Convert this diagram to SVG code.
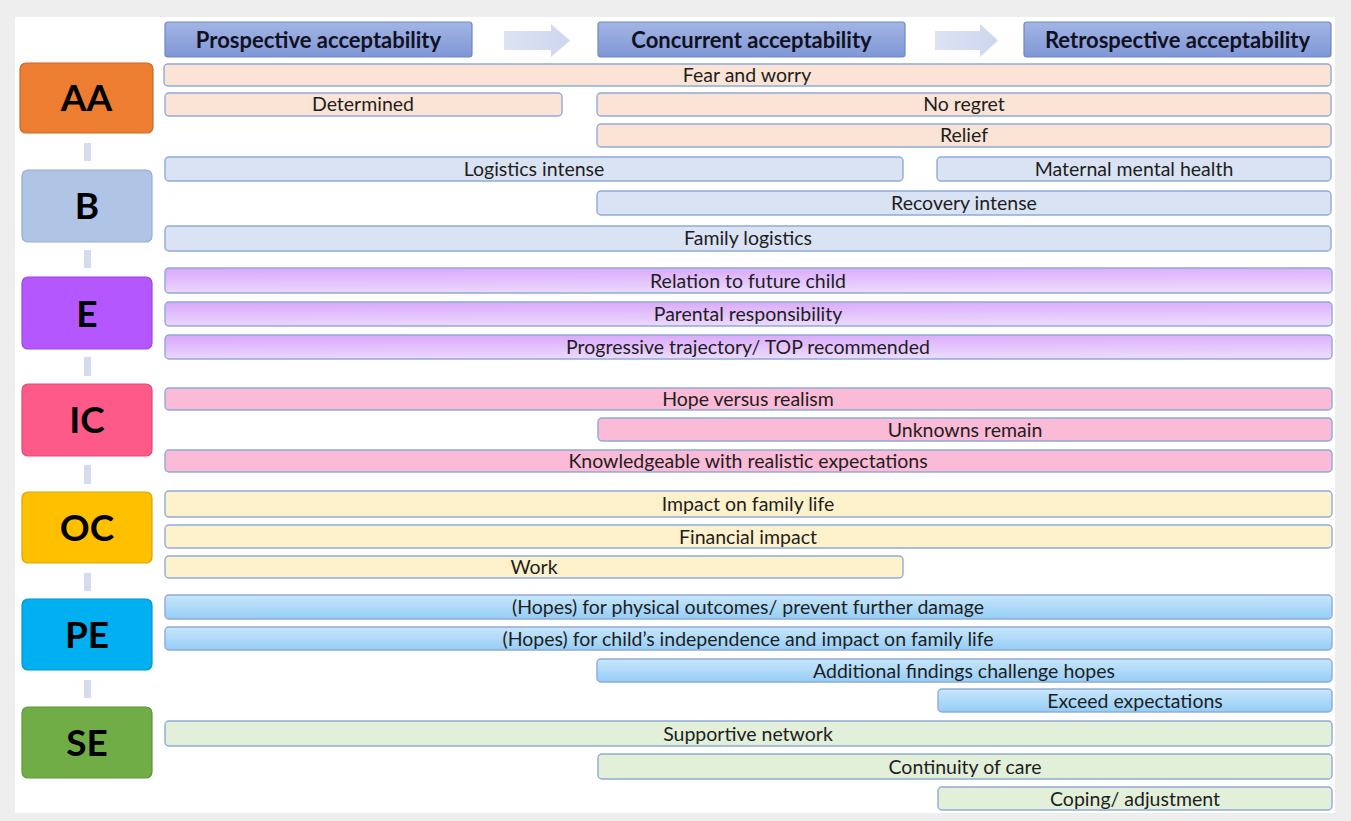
<svg xmlns="http://www.w3.org/2000/svg" width="1351" height="821" viewBox="0 0 1351 821">
<defs>
<linearGradient id="gHead" x1="0" y1="0" x2="0" y2="1"><stop offset="0" stop-color="#a3b5e4"/><stop offset="1" stop-color="#7f97d6"/></linearGradient>
<linearGradient id="gArrow" x1="0" y1="0" x2="1" y2="0"><stop offset="0" stop-color="#dde3f3"/><stop offset="1" stop-color="#cdd6ef"/></linearGradient>
<linearGradient id="gE" x1="0" y1="0" x2="0.2" y2="1"><stop offset="0" stop-color="#d9a6fb"/><stop offset="1" stop-color="#ecd8fd"/></linearGradient>
<linearGradient id="gPE" x1="0" y1="0" x2="0" y2="1"><stop offset="0" stop-color="#c8e7fc"/><stop offset="1" stop-color="#95cdf5"/></linearGradient>
<style>
.bar{stroke:#8faad9;stroke-width:1.4}
.aa{fill:#fbe4d5}.b{fill:#dae3f3}.e{fill:url(#gE)}.ic{fill:#fbbad5}.oc{fill:#fef2cc}.pe{fill:url(#gPE)}.se{fill:#e2efd9}
.t{font-family:Lato,"Open Sans","Liberation Sans",sans-serif;font-size:19.5px;fill:#1e1e1e;text-anchor:middle}
.h{font-family:Lato,"Open Sans","Liberation Sans",sans-serif;font-size:22px;font-weight:bold;fill:#111122;text-anchor:middle}
.n{font-family:Lato,"Open Sans","Liberation Sans",sans-serif;font-size:37px;font-weight:bold;fill:#000;text-anchor:middle}
.hd{fill:url(#gHead);stroke:#6f87c6;stroke-width:1.2}
.conn{stroke:#d4dbee;stroke-width:7}
</style>
</defs>
<rect x="0" y="0" width="1351" height="821" fill="#eeeeee"/>
<rect x="15" y="17" width="1320" height="796" fill="#ffffff"/>

<g id="headers">
<g id="h-prospective"><rect class="hd" x="165" y="22" width="307" height="35" rx="3"/><text class="h" x="318.5" y="47.5">Prospective acceptability</text></g>
<g id="h-concurrent"><rect class="hd" x="598" y="22" width="307" height="35" rx="3"/><text class="h" x="751.5" y="47.5">Concurrent acceptability</text></g>
<g id="h-retrospective"><rect class="hd" x="1024" y="22" width="307" height="35" rx="3"/><text class="h" x="1177.5" y="47.5">Retrospective acceptability</text></g>
<path d="M504,31 H551 V24 L570,40.5 L551,57 V50 H504 Z" fill="url(#gArrow)"/>
<path d="M935,31 H980 V24 L998,40.5 L980,57 V50 H935 Z" fill="url(#gArrow)"/>
</g>

<g id="connectors">
<line class="conn" x1="87.5" y1="143" x2="87.5" y2="161"/>
<line class="conn" x1="87.5" y1="250" x2="87.5" y2="268"/>
<line class="conn" x1="87.5" y1="357" x2="87.5" y2="376"/>
<line class="conn" x1="87.5" y1="465" x2="87.5" y2="484"/>
<line class="conn" x1="87.5" y1="573" x2="87.5" y2="591"/>
<line class="conn" x1="87.5" y1="680" x2="87.5" y2="698"/>
</g>

<g id="node-AA"><rect x="20" y="63" width="133" height="70" rx="6" fill="#ed7d31" stroke="#c9692a" stroke-width="1.2"/><text class="n" x="86.5" y="111">AA</text></g>
<g id="node-B"><rect x="22" y="170" width="130" height="72" rx="6" fill="#b0c4e5" stroke="#97abd0" stroke-width="1.2"/><text class="n" x="87" y="219">B</text></g>
<g id="node-E"><rect x="22" y="277" width="130" height="72" rx="6" fill="#b557ff" stroke="#9a47dc" stroke-width="1.2"/><text class="n" x="87" y="327">E</text></g>
<g id="node-IC"><rect x="22" y="384" width="130" height="72" rx="6" fill="#fd5a8a" stroke="#dd4a77" stroke-width="1.2"/><text class="n" x="87" y="433">IC</text></g>
<g id="node-OC"><rect x="22" y="492" width="130" height="71" rx="6" fill="#ffc000" stroke="#dba500" stroke-width="1.2"/><text class="n" x="87" y="541">OC</text></g>
<g id="node-PE"><rect x="22" y="599" width="130" height="71" rx="6" fill="#00b0f0" stroke="#0097cf" stroke-width="1.2"/><text class="n" x="87" y="648">PE</text></g>
<g id="node-SE"><rect x="22" y="707" width="130" height="71" rx="6" fill="#70ad47" stroke="#5f953c" stroke-width="1.2"/><text class="n" x="87" y="756">SE</text></g>

<g id="bars-AA">
<g id="bar-fear"><rect class="bar aa" x="164" y="64" width="1167" height="22" rx="4"/><text class="t" x="747" y="82">Fear and worry</text></g>
<g id="bar-determined"><rect class="bar aa" x="165" y="93" width="397" height="23" rx="4"/><text class="t" x="363" y="111">Determined</text></g>
<g id="bar-noregret"><rect class="bar aa" x="597" y="93" width="734" height="23" rx="4"/><text class="t" x="964" y="111">No regret</text></g>
<g id="bar-relief"><rect class="bar aa" x="597" y="124" width="734" height="23" rx="4"/><text class="t" x="964" y="142">Relief</text></g>
</g>
<g id="bars-B">
<g id="bar-logistics"><rect class="bar b" x="165" y="157" width="738" height="24" rx="4"/><text class="t" x="534" y="176">Logistics intense</text></g>
<g id="bar-maternal"><rect class="bar b" x="937" y="157" width="394" height="24" rx="4"/><text class="t" x="1134" y="176">Maternal mental health</text></g>
<g id="bar-recovery"><rect class="bar b" x="597" y="191" width="734" height="24" rx="4"/><text class="t" x="964" y="210">Recovery intense</text></g>
<g id="bar-family"><rect class="bar b" x="165" y="226" width="1166" height="25" rx="4"/><text class="t" x="748" y="245">Family logistics</text></g>
</g>
<g id="bars-E">
<g id="bar-relation"><rect class="bar e" x="165" y="268" width="1167" height="25" rx="4"/><text class="t" x="748" y="287.5">Relation to future child</text></g>
<g id="bar-parental"><rect class="bar e" x="165" y="302" width="1167" height="24" rx="4"/><text class="t" x="748" y="321">Parental responsibility</text></g>
<g id="bar-progressive"><rect class="bar e" x="165" y="335" width="1167" height="24" rx="4"/><text class="t" x="748" y="354">Progressive trajectory/ TOP recommended</text></g>
</g>
<g id="bars-IC">
<g id="bar-hope"><rect class="bar ic" x="165" y="388" width="1167" height="22" rx="4"/><text class="t" x="748" y="406">Hope versus realism</text></g>
<g id="bar-unknowns"><rect class="bar ic" x="598" y="418" width="734" height="23" rx="4"/><text class="t" x="965" y="436.5">Unknowns remain</text></g>
<g id="bar-knowledge"><rect class="bar ic" x="165" y="450" width="1167" height="22" rx="4"/><text class="t" x="748" y="468">Knowledgeable with realistic expectations</text></g>
</g>
<g id="bars-OC">
<g id="bar-impact"><rect class="bar oc" x="165" y="491" width="1167" height="26" rx="4"/><text class="t" x="748" y="511">Impact on family life</text></g>
<g id="bar-financial"><rect class="bar oc" x="165" y="525" width="1167" height="23" rx="4"/><text class="t" x="748" y="543.5">Financial impact</text></g>
<g id="bar-work"><rect class="bar oc" x="165" y="556" width="738" height="22" rx="4"/><text class="t" x="534" y="574">Work</text></g>
</g>
<g id="bars-PE">
<g id="bar-physical"><rect class="bar pe" x="165" y="595" width="1167" height="24" rx="4"/><text class="t" x="748" y="614">(Hopes) for physical outcomes/ prevent further damage</text></g>
<g id="bar-independence"><rect class="bar pe" x="165" y="627" width="1167" height="23" rx="4"/><text class="t" x="748" y="645.5">(Hopes) for child’s independence and impact on family life</text></g>
<g id="bar-additional"><rect class="bar pe" x="597" y="659" width="735" height="23" rx="4"/><text class="t" x="964" y="677.5">Additional findings challenge hopes</text></g>
<g id="bar-exceed"><rect class="bar pe" x="938" y="689" width="394" height="23" rx="4"/><text class="t" x="1135" y="707.5">Exceed expectations</text></g>
</g>
<g id="bars-SE">
<g id="bar-supportive"><rect class="bar se" x="165" y="721" width="1167" height="25" rx="4"/><text class="t" x="748" y="740.5">Supportive network</text></g>
<g id="bar-continuity"><rect class="bar se" x="598" y="754" width="734" height="25" rx="4"/><text class="t" x="965" y="773.5">Continuity of care</text></g>
<g id="bar-coping"><rect class="bar se" x="938" y="787" width="394" height="23" rx="4"/><text class="t" x="1135" y="805.5">Coping/ adjustment</text></g>
</g>
</svg>
